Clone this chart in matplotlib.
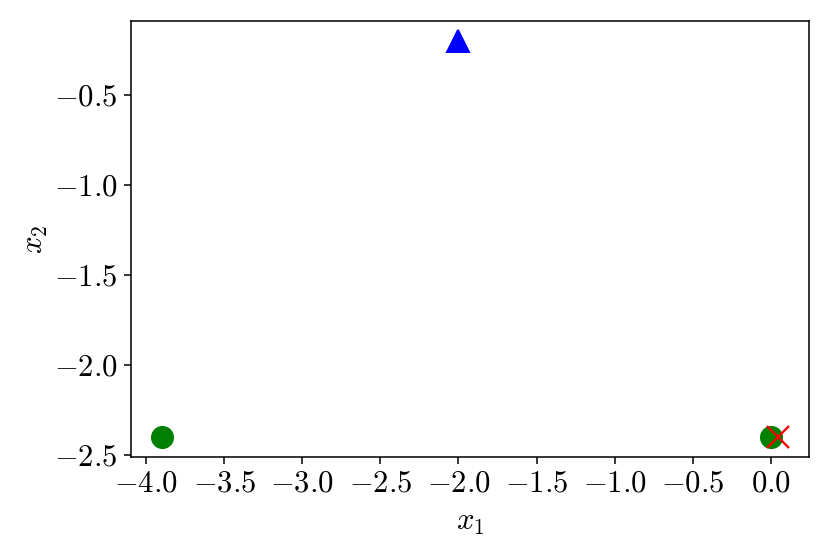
import matplotlib
matplotlib.use("Agg")
import matplotlib.pyplot as plt
from matplotlib.ticker import MultipleLocator

plt.rcParams['font.family'] = 'serif'
plt.rcParams['font.serif'] = ['cmr10']
plt.rcParams['mathtext.fontset'] = 'cm'
plt.rcParams['axes.formatter.use_mathtext'] = True
plt.rcParams['axes.unicode_minus'] = True

# points
circle_x = [-3.9, 0.0]
circle_y = [-2.4, -2.4]
triangle_x = [-2.0]
triangle_y = [-0.2]
cross_x = [0.05]
cross_y = [-2.4]

dpi = 138.33
fig = plt.figure(figsize=(830 / dpi, 554 / dpi), dpi=dpi)
ax = fig.add_axes([0.158, 0.175, 0.817, 0.787])

ax.plot(circle_x, circle_y, 'o', color='green', markersize=11, linestyle='none')
ax.plot(triangle_x, triangle_y, '^', color='blue', markersize=11, linestyle='none')
ax.plot(cross_x, cross_y, 'x', color='red', markersize=11, markeredgewidth=1.2, linestyle='none')

ax.xaxis.set_major_locator(MultipleLocator(0.5))
ax.yaxis.set_major_locator(MultipleLocator(0.5))

ax.set_xlabel(r'$x_1$', fontsize=16, labelpad=6)
ax.set_ylabel(r'$x_2$', fontsize=16, labelpad=2)
ax.tick_params(labelsize=16)

fig.savefig('out.png', dpi=dpi)
